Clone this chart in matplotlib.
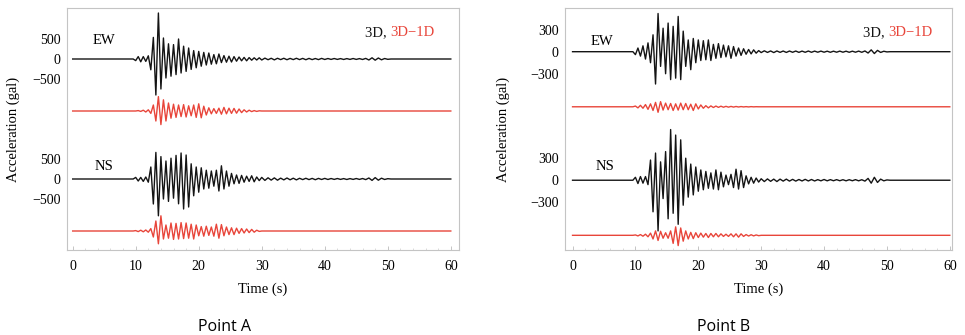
import numpy as np
import matplotlib
matplotlib.use("Agg")
import matplotlib.pyplot as plt
from matplotlib.ticker import MultipleLocator

# ---------------- data (peak/trough values, gal) ----------------
T_START = 9.6      # first sample of the strong-motion part (s)
STEP = 0.4         # spacing between successive peaks/troughs (s)
TAIL_STEP = 0.5    # spacing in the weak coda (s)
T_END = 60.0

# Point A
a_ew_3d = [0, -40, 60, -70, 60, -60, 80, -270, 540, -900, 1150, -750, 525, -475,
           380, -430, 360, -390, 500, -350, 320, -310, 275, -260, 210, -220, 190,
           -180, 165, -150, 150, -130, 110, -120, 125, -90, 85, -80, 70, -75, 60,
           -55, 50, -45, 40, -45, 35, -30, 30, -25, 30, -25]
a_ew_tail = [22, -18, 18, -22, 18, -15, 18, -18, 15, -15, 18, -15, 15, -18, 15,
             -15, 12, -15, 15, -12, 12, -10, 12, -10, 10, -12, 10, -10, 12, -10,
             10, -12, 15, -25, 30, -30, 25, -20, 12, -8, 0]
a_ew_diff = [0, 0, 10, -10, 20, -25, 30, -60, 150, -250, 360, -340, 280, -250, 200,
             -180, 170, -160, 150, -140, 160, -150, 130, -120, 150, -160, 180, -170,
             120, -100, 80, -70, 60, -60, 70, -80, 90, -70, 70, -60, 65, -55, 50,
             -40, 30, -25, 20, -15, 10, -10, 5, 0]
a_ns_3d = [0, 40, -50, 40, -60, 50, -80, 300, -625, 665, -920, 560, -500, 450, -560,
           520, -480, 590, -620, 650, -750, 600, -700, 380, -420, 300, -330, 280,
           -250, 220, -230, 200, -180, 220, -300, 330, -250, 200, -180, 140, -120,
           100, -110, 90, -80, 70, -60, 80, -70, 50, -40, 40]
a_ns_tail = [-35, 30, -28, 28, -30, 22, -22, 25, -20, 20, -22, 18, -15, 18, -15,
             15, -18, 15, -12, 15, -12, 12, -10, 12, -10, 10, -12, 10, -10, 12,
             -10, 12, -15, 25, -35, 35, -30, 20, -12, 8, 0]
a_ns_diff = [0, 10, -15, 20, -20, 25, -30, 60, -150, 250, -320, 380, -200, 150, -180,
             200, -210, 190, -200, 210, -190, 200, -180, 170, -200, 150, -120, 110,
             -130, 120, -110, 100, -130, 170, -180, 160, -120, 100, -90, 80, -90, 70,
             -60, 60, -50, 50, -40, 40, -30, 20, -10, 0]

# Point B
b_ew_3d = [0, -40, 50, -60, 80, -100, 120, -150, 230, -440, 520, -200, 320, -300,
           390, -380, 345, -360, 480, -380, 280, -200, 160, -245, 180, -150, 160,
           -120, 150, -110, 160, -120, 100, -90, 110, -80, 90, -70, 80, -90, 70,
           -60, 50, -50, 40, -35, 30, -30, 25, -20, 15, -12]
b_ew_tail = [12, -10, 10, -12, 10, -9, 9, -10, 9, -8, 9, -9, 8, -8, 9, -8,
             8, -7, 8, -7, 7, -8, 7, -7, 8, -7, 7, -8, 7, -7, 8,
             -8, 10, -18, 25, -25, 18, -10, 6, -3, 0]
b_ew_diff = [0, 10, -15, 20, -20, 30, -35, 40, -50, 60, -75, 70, -45, 50, -40, 45,
             -50, 40, -45, 50, -40, 45, -40, 35, -50, 40, -30, 25, -20, 15, -15, 12,
             -10, 10, -8, 8, -6, 6, -5, 5, -4, 4, -3, 3, -2, 2, -2, 2, -1, 1, 0, 0]
b_ns_3d = [0, 40, -45, 50, -40, 50, -60, 275, -430, 370, -690, 250, -250, 390,
           -525, 690, -450, 615, -600, 550, -340, 300, -230, 220, -200, 180, -150,
           140, -130, 120, -110, 100, -120, 140, -130, 110, -90, 70, -60, 80, -100,
           150, -120, 130, -100, 60, -50, 40, -40, 30, -25, 20]
b_ns_tail = [-18, 18, -15, 15, -18, 15, -12, 15, -12, 12, -12, 10, -10, 12, -10, 10,
             -10, 8, -8, 10, -8, 8, -7, 8, -7, 7, -8, 7, -7, 8, -8,
             7, -12, 25, -40, 40, -30, 15, -8, 4, 0]
b_ns_diff = [0, 5, -8, 10, -12, 15, -20, 30, -50, 60, -70, 55, -40, 35, -40, 60,
             -110, 115, -140, 100, -80, 60, -50, 40, -45, 35, -30, 30, -25, 25, -30,
             25, -20, 25, -20, 20, -15, 15, -15, 20, -20, 20, -25, 20, -15, 10, -10,
             8, -8, 5, -5, 0]

# trace baselines (gal) and y tick labels
a_offsets = [0, -1300, -3000, -4300]
b_offsets = [0, -750, -1750, -2500]
a_yticks = [500, 0, -500]
b_yticks = [300, 0, -300]
x_ticks = [0, 10, 20, 30, 40, 50, 60]
components = ["EW", "NS"]
panel_titles = ["Point A", "Point B"]

BLACK = "#141414"
RED = "#e8453a"
W, H = 965, 335


def build_trace(main, tail=None):
    t_main = T_START + STEP * np.arange(len(main))
    t = [0.0] + list(t_main)
    v = [0.0] + list(main)
    if tail is not None:
        t_tail = t_main[-1] + TAIL_STEP * (1 + np.arange(len(tail)))
        t += list(t_tail)
        v += list(tail)
    t.append(T_END)
    v.append(0.0)
    return np.array(t), np.array(v, dtype=float)


plt.rcParams["font.family"] = ["Liberation Serif", "DejaVu Serif"]
fig = plt.figure(figsize=(W / 100, H / 100), dpi=100)

panels = [
    dict(pos=[66.7 / W, 1 - 250 / H, 392.3 / W, 242 / H], xlim=(-0.95, 61.3),
         ylim=(-4775, 1275), offs=a_offsets, yt=a_yticks,
         traces=[(a_ew_3d, a_ew_tail, a_ew_diff), (a_ns_3d, a_ns_tail, a_ns_diff)],
         title=panel_titles[0], title_x=224, ylab_x=20,
         comp_xy=[(104, 41), (104, 166.5)], leg=(365, 32.5)),
    dict(pos=[565 / W, 1 - 250 / H, 386.7 / W, 242 / H], xlim=(-1.2, 60.3),
         ylim=(-2700, 595), offs=b_offsets, yt=b_yticks,
         traces=[(b_ew_3d, b_ew_tail, b_ew_diff), (b_ns_3d, b_ns_tail, b_ns_diff)],
         title=panel_titles[1], title_x=724, ylab_x=510,
         comp_xy=[(602, 41.5), (605, 167)], leg=(863, 33)),
]

for p in panels:
    ax = fig.add_axes(p["pos"])
    offs = p["offs"]
    for k, (main, tail, diff) in enumerate(p["traces"]):
        t, v = build_trace(main, tail)
        ax.plot(t, v + offs[2 * k], color=BLACK, lw=1.0)
        t2, v2 = build_trace(diff)
        ax.plot(t2, v2 + offs[2 * k + 1], color=RED, lw=1.0)
    ax.set_xlim(*p["xlim"])
    ax.set_ylim(*p["ylim"])
    ax.set_xticks(x_ticks)
    ax.xaxis.set_minor_locator(MultipleLocator(2))
    yt_pos = [y + offs[0] for y in p["yt"]] + [y + offs[2] for y in p["yt"]]
    yt_lab = [str(y).replace("-", "\u2212") for y in p["yt"]] * 2
    ax.set_yticks(yt_pos)
    ax.set_yticklabels(yt_lab)
    ax.tick_params(axis="both", direction="in", color="#bbbbbb", labelsize=10,
                   length=3, width=0.6)
    ax.tick_params(axis="x", pad=7)
    ax.tick_params(axis="x", which="minor", direction="in", color="#cccccc",
                   length=1.5, width=0.5)
    ax.tick_params(axis="y", length=0, pad=4.5)
    for s in ax.spines.values():
        s.set_color("#c4c4c4")
        s.set_linewidth(0.8)
    ax.set_xlabel("Time (s)", fontsize=10.5)
    ax.xaxis.set_label_coords(0.5, -(283 - 250) / 242)
    ax.set_ylabel("Acceleration (gal)", fontsize=10.5)
    x0 = p["pos"][0] * W
    ax.yaxis.set_label_coords((p["ylab_x"] - x0) / (p["pos"][2] * W), 0.5)
    # component labels
    for comp, (cx, cy) in zip(components, p["comp_xy"]):
        fig.text(cx / W, 1 - cy / H, comp, fontsize=10.5, ha="center", va="center")
    # legend text
    lx, ly = p["leg"]
    t1 = fig.text(lx / W, 1 - ly / H, "3D, ", fontsize=10.5, color=BLACK,
                  va="center", ha="left")
    fig.canvas.draw()
    ax.annotate("3D\u22121D", xycoords=t1, xy=(1, 0.5), va="center", ha="left",
                fontsize=10.5, color=RED)
    fig.text(p["title_x"] / W, 1 - 327 / H, p["title"], family="Open Sans",
             fontsize=11.5, ha="center", va="center")

fig.savefig("out.png", dpi=100)
